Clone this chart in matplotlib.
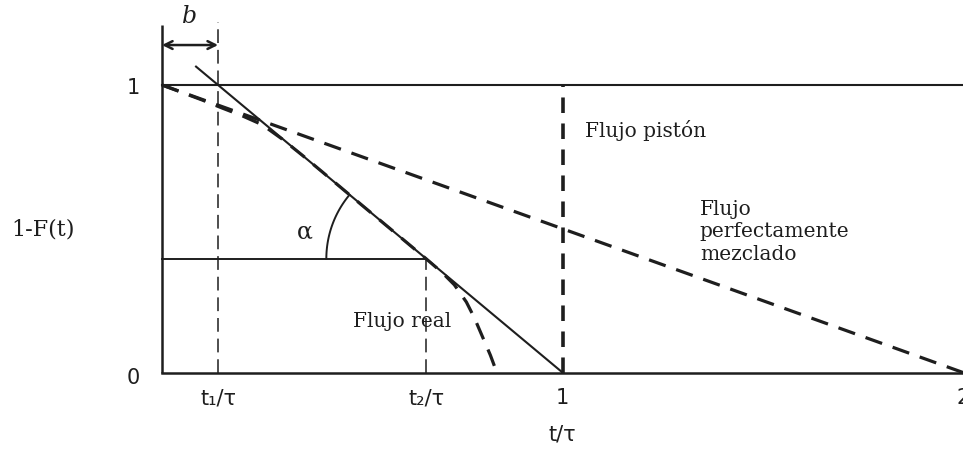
import matplotlib
matplotlib.use("Agg")
import matplotlib.pyplot as plt
import numpy as np

# characteristic times (t/tau) and the level used for the angle construction
t1 = 0.14
t2 = 0.66
y_t2 = (1 - t2) / (1 - t1)

# real flow curve, read point by point
real_x = [0.0, 0.05, 0.10, 0.15, 0.20, 0.25, 0.30, 0.35, 0.40, 0.50, 0.60,
          0.66, 0.70, 0.73, 0.76, 0.78, 0.80, 0.82, 0.836]
real_y = [1.0, 0.974, 0.948, 0.92, 0.893, 0.862, 0.812, 0.756, 0.698, 0.581,
          0.465, 0.395, 0.347, 0.305, 0.245, 0.19, 0.125, 0.06, 0.0]

# perfectly mixed (drawn as a straight line) and plug flow
mixed_x = [0.0, 2.0]
mixed_y = [1.0, 0.0]
plug_x = 1.0

x_ticks = [t1, t2, 1.0, 2.0]
x_ticklabels = ["t₁/τ", "t₂/τ", "1", "2"]

ink = "#1e1e1e"
serif = "DejaVu Serif"
sans = "DejaVu Sans"

fig = plt.figure(figsize=(9.63, 4.59), dpi=100)
ax = fig.add_axes([0, 0, 1, 1])
ax.set_xlim(-162 / 400.5, 2.0)
ax.set_ylim(-(459 - 372.5) / 287.5, 372.5 / 287.5)
ax.axis("off")

# axes frame: vertical axis, baseline and the top level 1
ax.plot([0, 0], [0, 1.21], color=ink, lw=1.8, solid_capstyle="butt")
ax.plot([0, 2.0], [0, 0], color=ink, lw=1.8)
ax.plot([0, 2.0], [1, 1], color=ink, lw=1.5)

# thin dashed guides at t1 and t2
ax.plot([t1, t1], [0, 1.22], color=ink, lw=1.1, dashes=(9, 4.5))
ax.plot([t2, t2], [0, y_t2], color=ink, lw=1.1, dashes=(9, 4.5))

# horizontal reference at t2
ax.plot([0, t2], [y_t2, y_t2], color=ink, lw=1.4)

# tangent line through (t1, 1) and (1, 0)
tan_x = np.array([0.085, 1.0])
ax.plot(tan_x, (1 - tan_x) / (1 - t1), color=ink, lw=1.5)

# mixed flow and real flow, thick dashed
ax.plot(mixed_x, mixed_y, color=ink, lw=2.3, dashes=(5.5, 3.5))
ax.plot(real_x, real_y, color=ink, lw=2.3, dashes=(5.5, 3.5))

# plug flow step
ax.plot([plug_x, plug_x], [0, 1], color=ink, lw=2.6, dashes=(4.3, 2.9))

# angle arc, circular on screen
px_x, px_y = 400.5, 287.5
ang = np.degrees(np.arctan(px_y / px_x / (1 - t1)))
th = np.radians(np.linspace(180 - ang, 180, 60))
ax.plot(t2 + 100 * np.cos(th) / px_x, y_t2 + 100 * np.sin(th) / px_y,
        color=ink, lw=1.4)
ax.text(0.357, 0.489, "α", fontsize=17, family=serif, color=ink,
        ha="center", va="center")

# b arrow
ax.annotate("", xy=(t1, 1.139), xytext=(0, 1.139),
            arrowprops=dict(arrowstyle="<->", color=ink, lw=1.8,
                            shrinkA=0, shrinkB=0, mutation_scale=14))
ax.text(0.07, 1.237, "b", fontsize=17, family=serif, style="italic",
        color=ink, ha="center", va="center")

# labels
ax.text(1.056, 0.843, "Flujo pistón", fontsize=14.5, family=serif,
        color=ink, ha="left", va="center")
ax.text(1.343, 0.489, "Flujo\nperfectamente\nmezclado", fontsize=14.5,
        family=serif, color=ink, ha="left", va="center", linespacing=1.25)
ax.text(0.477, 0.176, "Flujo real", fontsize=14.5, family=serif,
        color=ink, ha="left", va="center")
ax.text(-0.297, 0.496, "1-F(t)", fontsize=16, family=serif, color=ink,
        ha="center", va="center")

# tick labels
ax.text(-0.072, 0.99, "1", fontsize=15, family=sans, color=ink,
        ha="center", va="center")
ax.text(-0.072, -0.02, "0", fontsize=15, family=sans, color=ink,
        ha="center", va="center")
for xv, lab in zip(x_ticks, x_ticklabels):
    ax.text(xv, -0.089, lab, fontsize=15, family=sans, color=ink,
            ha="center", va="center")
ax.text(1.0, -0.217, "t/τ", fontsize=15, family=sans, color=ink,
        ha="center", va="center")

fig.savefig("out.png", dpi=100)
